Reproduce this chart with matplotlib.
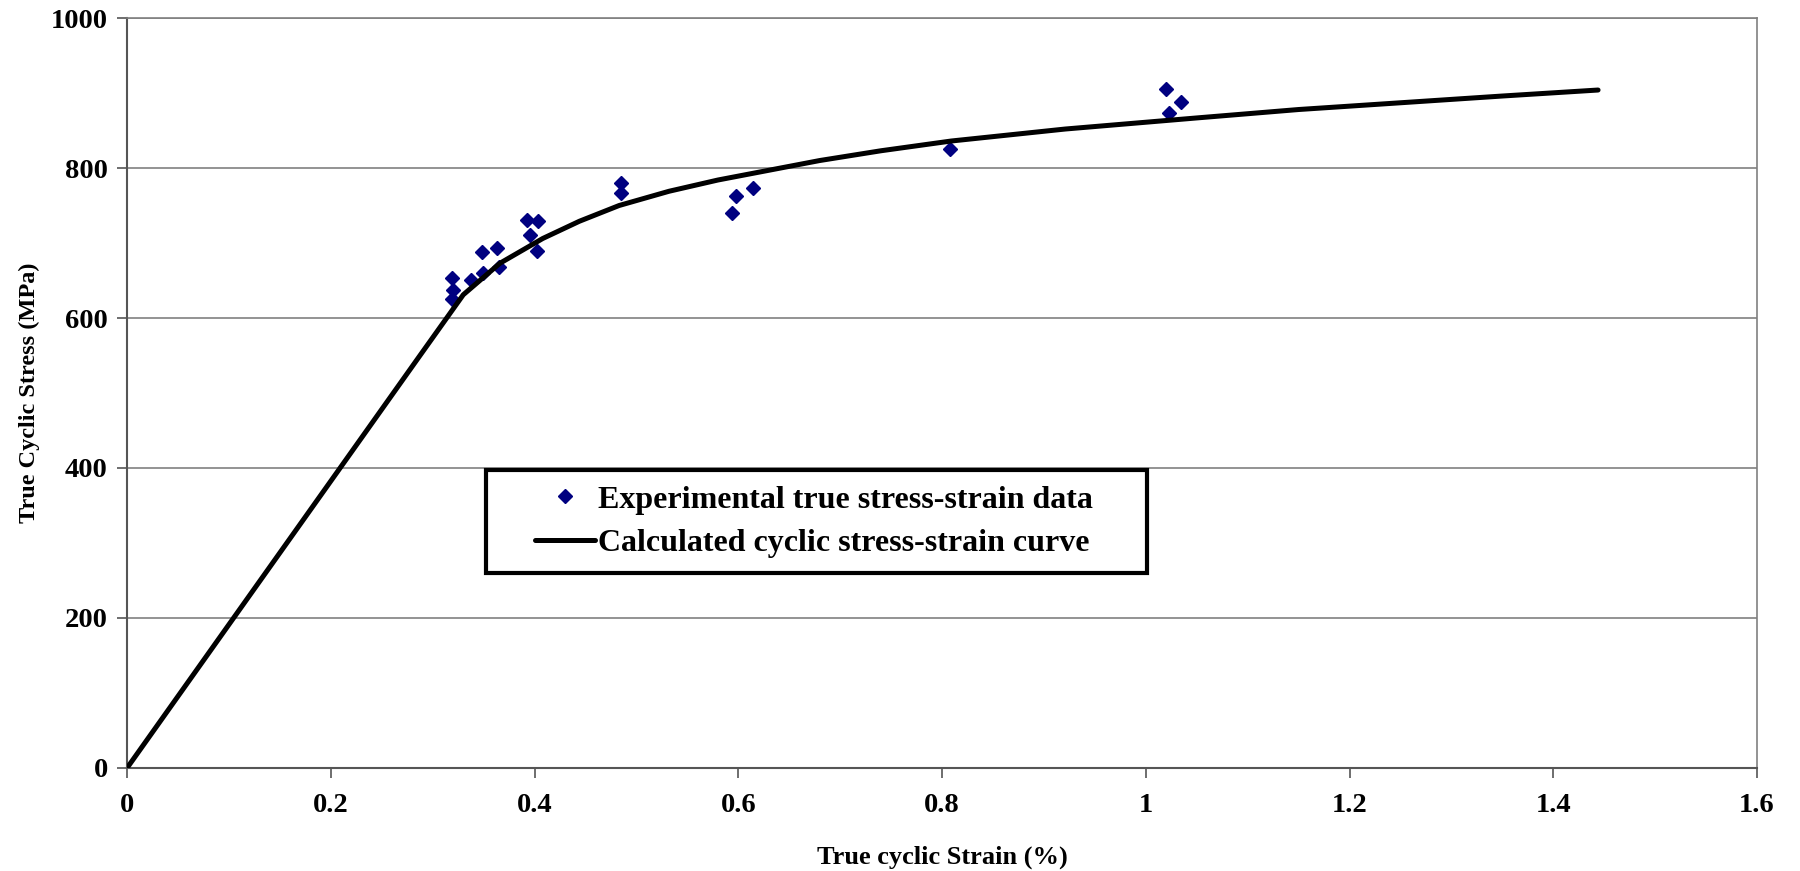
import matplotlib.pyplot as plt
from matplotlib.patches import Rectangle

# experimental true stress-strain points
exp_strain = [0.319, 0.320, 0.319, 0.338, 0.348, 0.349, 0.363, 0.365,
              0.393, 0.403, 0.396, 0.402, 0.485, 0.485, 0.594, 0.598,
              0.614, 0.808, 1.020, 1.023, 1.035]
exp_stress = [653, 637, 625, 651, 688, 660, 693, 668,
              731, 730, 711, 689, 780, 767, 740, 763,
              774, 825, 905, 874, 888]

# calculated cyclic stress-strain curve
curve_strain = [0.0, 0.287, 0.330, 0.366, 0.408, 0.444, 0.483, 0.532, 0.580,
                0.630, 0.680, 0.740, 0.809, 0.921, 1.052, 1.150, 1.250, 1.350, 1.444]
curve_stress = [0, 549, 631, 673, 706, 729, 750, 769, 784,
                797, 810, 823, 836, 852, 867, 878, 887, 896, 904]

x_ticks = [0, 0.2, 0.4, 0.6, 0.8, 1.0, 1.2, 1.4, 1.6]
x_tick_labels = ["0", "0.2", "0.4", "0.6", "0.8", "1", "1.2", "1.4", "1.6"]
y_ticks = [0, 200, 400, 600, 800, 1000]

plt.rcParams['font.family'] = ['Liberation Serif', 'DejaVu Serif']
plt.rcParams['font.weight'] = 'bold'

fig = plt.figure(figsize=(18, 8.71), dpi=100)
ax = fig.add_axes([0.0706, 0.1183, 0.9055, 0.861])

ax.plot(exp_strain, exp_stress, linestyle='none', marker='D', markersize=7.5,
        color='#000080', label='Experimental true stress-strain data', zorder=3)
ax.plot(curve_strain, curve_stress, color='black', linewidth=3.6,
        solid_capstyle='round', label='Calculated cyclic stress-strain curve', zorder=4)

ax.set_xlim(0, 1.6)
ax.set_ylim(0, 1000)
ax.set_xticks(x_ticks)
ax.set_xticklabels(x_tick_labels)
ax.set_yticks(y_ticks)
ax.tick_params(direction='out', length=7, width=1.2, color='#555555',
               labelsize=20.5, pad=7)
ax.tick_params(axis='x', pad=11)
for lab in ax.get_xticklabels() + ax.get_yticklabels():
    lab.set_fontweight('bold')

ax.grid(axis='y', color='#808080', linewidth=1.2)
ax.set_axisbelow(True)
for side in ['left', 'bottom']:
    ax.spines[side].set_color('#555555')
    ax.spines[side].set_linewidth(1.5)
for side in ['top', 'right']:
    ax.spines[side].set_color('#808080')
    ax.spines[side].set_linewidth(1.2)

ax.set_xlabel("True cyclic Strain (%)", fontsize=19, fontweight='bold', labelpad=20)
ax.set_ylabel("True Cyclic Stress (MPa)", fontsize=17.5, fontweight='bold', labelpad=8)

# legend frame drawn separately, wider than the legend contents
ax.add_patch(Rectangle((0.2202, 0.26), 0.4056, 0.137, transform=ax.transAxes,
                       facecolor='white', edgecolor='black', linewidth=3, zorder=5))
leg = ax.legend(loc='upper left', bbox_to_anchor=(0.250, 0.377), frameon=False,
                prop={'size': 23, 'weight': 'bold'},
                handlelength=1.9, handletextpad=0.1, borderpad=0, labelspacing=0.45,
                borderaxespad=0)
leg.set_zorder(6)

fig.savefig("out.png", dpi=100)
